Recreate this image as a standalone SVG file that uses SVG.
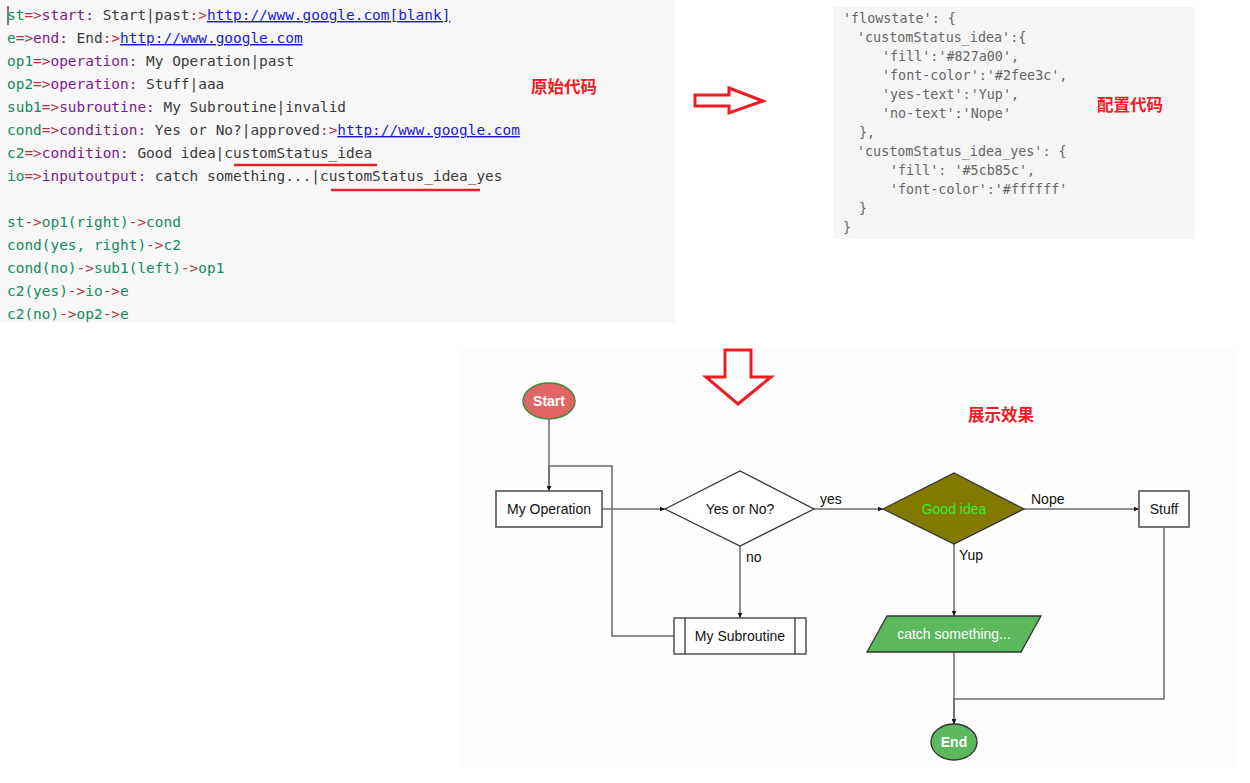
<svg xmlns="http://www.w3.org/2000/svg" width="1250" height="783" viewBox="0 0 1250 783">
<defs>
<style>
.code{font-family:"DejaVu Sans Mono","Liberation Mono",monospace;font-size:14.45px;fill:#3a3a3a;white-space:pre}
.g{fill:#148a5e}.r{fill:#b0343f}.p{fill:#7a1b8c}
.lk{fill:#1a1ad6;text-decoration:underline}
.cfg{font-family:"DejaVu Sans Mono","Liberation Mono",monospace;font-size:13.4px;fill:#666;white-space:pre}
.cn{font-family:"Noto Sans CJK SC",sans-serif;font-size:16.5px;font-weight:bold;fill:#ee1c25}
.nt{font-family:"Liberation Sans",Arial,sans-serif;font-size:14px;fill:#111;text-anchor:middle}
.lb{font-family:"Liberation Sans",Arial,sans-serif;font-size:14px;fill:#111}
.bold{font-weight:bold;fill:#fff}
.conn{fill:none;stroke:#6b6b6b;stroke-width:1.5;marker-end:url(#ah)}
.bigarrow{fill:#fff;stroke:#ee1c25;stroke-width:3}
</style>
<marker id="ah" markerWidth="6" markerHeight="6" refX="5" refY="3" orient="auto" markerUnits="userSpaceOnUse">
<path d="M0,0.8 L5,3 L0,5.2 Z" fill="#111"/>
</marker>
</defs>
<rect width="1250" height="783" fill="#fff"/>
<rect x="460" y="348" width="777" height="420" fill="#fdfdfd"/>
<!-- source code panel -->
<g id="source-code">
<rect x="0" y="0" width="675" height="323" fill="#f7f7f7"/>
<line x1="8" y1="6" x2="8" y2="25" stroke="#000" stroke-width="1"/>
<text class="code" x="7" y="20"><tspan class="g">st</tspan><tspan class="r">=&gt;</tspan><tspan class="p">start:</tspan> Start|past<tspan class="r">:&gt;</tspan><tspan class="lk">http://www.google.com[blank]</tspan></text>
<text class="code" x="7" y="43"><tspan class="g">e</tspan><tspan class="r">=&gt;</tspan><tspan class="p">end:</tspan> End<tspan class="r">:&gt;</tspan><tspan class="lk">http://www.google.com</tspan></text>
<text class="code" x="7" y="66"><tspan class="g">op1</tspan><tspan class="r">=&gt;</tspan><tspan class="p">operation:</tspan> My Operation|past</text>
<text class="code" x="7" y="89"><tspan class="g">op2</tspan><tspan class="r">=&gt;</tspan><tspan class="p">operation:</tspan> Stuff|aaa</text>
<text class="code" x="7" y="112"><tspan class="g">sub1</tspan><tspan class="r">=&gt;</tspan><tspan class="p">subroutine:</tspan> My Subroutine|invalid</text>
<text class="code" x="7" y="135"><tspan class="g">cond</tspan><tspan class="r">=&gt;</tspan><tspan class="p">condition:</tspan> Yes or No?|approved<tspan class="r">:&gt;</tspan><tspan class="lk">http://www.google.com</tspan></text>
<text class="code" x="7" y="158"><tspan class="g">c2</tspan><tspan class="r">=&gt;</tspan><tspan class="p">condition:</tspan> Good idea|customStatus_idea</text>
<text class="code" x="7" y="181"><tspan class="g">io</tspan><tspan class="r">=&gt;</tspan><tspan class="p">inputoutput:</tspan> catch something...|customStatus_idea_yes</text>
<text class="code" x="7" y="227"><tspan class="g">st</tspan><tspan class="r">-&gt;</tspan><tspan class="g">op1(right)</tspan><tspan class="r">-&gt;</tspan><tspan class="g">cond</tspan></text>
<text class="code" x="7" y="250"><tspan class="g">cond(yes, right)</tspan><tspan class="r">-&gt;</tspan><tspan class="g">c2</tspan></text>
<text class="code" x="7" y="273"><tspan class="g">cond(no)</tspan><tspan class="r">-&gt;</tspan><tspan class="g">sub1(left)</tspan><tspan class="r">-&gt;</tspan><tspan class="g">op1</tspan></text>
<text class="code" x="7" y="296"><tspan class="g">c2(yes)</tspan><tspan class="r">-&gt;</tspan><tspan class="g">io</tspan><tspan class="r">-&gt;</tspan><tspan class="g">e</tspan></text>
<text class="code" x="7" y="319"><tspan class="g">c2(no)</tspan><tspan class="r">-&gt;</tspan><tspan class="g">op2</tspan><tspan class="r">-&gt;</tspan><tspan class="g">e</tspan></text>
<line x1="234" y1="165" x2="377" y2="165" stroke="#e8202a" stroke-width="2.6"/>
<line x1="331" y1="190" x2="480" y2="190" stroke="#e8202a" stroke-width="2.6"/>
<text class="cn" x="531" y="93">原始代码</text>
</g>
<!-- right arrow -->
<g id="arrow-right">
<polygon class="bigarrow" points="695,95 729,95 729,88 763,101 729,113 729,106 695,106"/>
</g>
<!-- config panel -->
<g id="config-code">
<rect x="834" y="7" width="361" height="232" fill="#f5f5f5"/>
<text class="cfg" x="843" y="23">'flowstate': {</text>
<text class="cfg" x="857" y="42">'customStatus_idea':{</text>
<text class="cfg" x="882" y="61">'fill':'#827a00',</text>
<text class="cfg" x="882" y="80">'font-color':'#2fee3c',</text>
<text class="cfg" x="882" y="99">'yes-text':'Yup',</text>
<text class="cfg" x="882" y="118">'no-text':'Nope'</text>
<text class="cfg" x="859" y="137">},</text>
<text class="cfg" x="857" y="156">'customStatus_idea_yes': {</text>
<text class="cfg" x="890" y="175">'fill': '#5cb85c',</text>
<text class="cfg" x="890" y="194">'font-color':'#ffffff'</text>
<text class="cfg" x="859" y="213">}</text>
<text class="cfg" x="843" y="232">}</text>
<text class="cn" x="1097" y="111">配置代码</text>
</g>
<!-- down arrow -->
<g id="arrow-down">
<polygon class="bigarrow" points="725,350 751,350 751,377 771,377 738,404 706,377 725,377"/>
</g>
<text class="cn" x="968" y="421">展示效果</text>
<g id="connectors">
<path class="conn" d="M549,419 V491"/>
<path class="conn" d="M602,509 H665"/>
<path class="conn" d="M814,509 H883"/>
<path class="conn" d="M1024,509 H1139"/>
<path class="conn" d="M740,546 V618"/>
<path class="conn" d="M674,636 H612 V466 H549 V491"/>
<path class="conn" d="M954,544 V616"/>
<path class="conn" d="M954,652 V724"/>
<path class="conn" d="M1164,527 V699 H954 V724"/>
<text class="lb" x="820" y="504">yes</text>
<text class="lb" x="746" y="562">no</text>
<text class="lb" x="1031" y="504">Nope</text>
<text class="lb" x="959" y="560">Yup</text>
</g>
<g id="st">
<ellipse cx="549" cy="401" rx="26" ry="18" fill="#e06666" stroke="#3f8a3a" stroke-width="1.5"/>
<text class="nt bold" x="549" y="406">Start</text>
</g>
<g id="op1">
<rect x="496" y="491" width="106" height="36" fill="#fff" stroke="#666" stroke-width="1.8"/>
<text class="nt" x="549" y="514">My Operation</text>
</g>
<g id="cond">
<polygon points="665,509 740,471 814,509 740,546" fill="#fff" stroke="#333" stroke-width="1.3"/>
<text class="nt" x="740" y="514">Yes or No?</text>
</g>
<g id="c2">
<polygon points="883,509 954,473 1024,509 954,544" fill="#827a00" stroke="#333" stroke-width="1.3"/>
<text class="nt" x="954" y="514" style="fill:#2fee3c">Good idea</text>
</g>
<g id="op2">
<rect x="1139" y="491" width="50" height="36" fill="#fff" stroke="#666" stroke-width="1.8"/>
<text class="nt" x="1164" y="514">Stuff</text>
</g>
<g id="sub1">
<rect x="674" y="618" width="132" height="36" fill="#fff" stroke="#444" stroke-width="1.4"/>
<line x1="685" y1="618" x2="685" y2="654" stroke="#444" stroke-width="1.4"/>
<line x1="795" y1="618" x2="795" y2="654" stroke="#444" stroke-width="1.4"/>
<text class="nt" x="740" y="641">My Subroutine</text>
</g>
<g id="io">
<polygon points="887,616 1041,616 1021,652 867,652" fill="#5cb85c" stroke="#333" stroke-width="1.3"/>
<text class="nt" x="954" y="639" style="fill:#fff">catch something...</text>
</g>
<g id="e">
<ellipse cx="954" cy="742" rx="23" ry="18" fill="#5cb85c" stroke="#333" stroke-width="1.3"/>
<text class="nt bold" x="954" y="747">End</text>
</g>
</svg>
